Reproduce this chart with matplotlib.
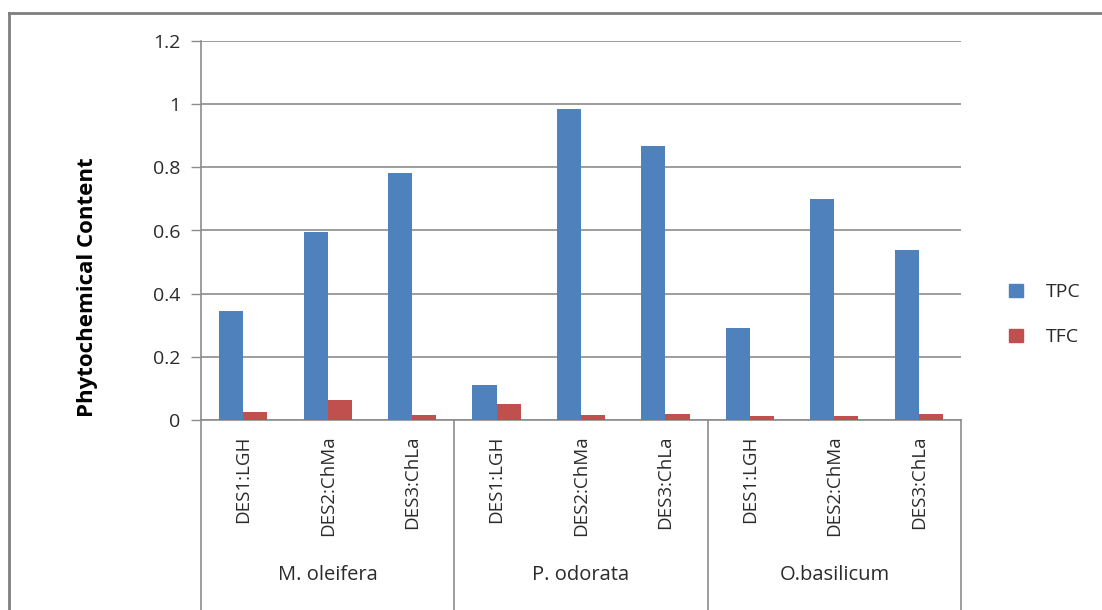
import numpy as np
import matplotlib.pyplot as plt
from matplotlib.patches import Patch
from matplotlib.lines import Line2D

plt.rcParams['font.family'] = ['Open Sans', 'DejaVu Sans']

# solvent systems inside each plant group
solvents = ['DES1:LGH', 'DES2:ChMa', 'DES3:ChLa']
plants = ['M. oleifera', 'P. odorata', 'O.basilicum']

# phenolic and flavonoid content, three solvents per plant
tpc = [0.344, 0.594, 0.783, 0.110, 0.985, 0.868, 0.290, 0.700, 0.537]
tfc = [0.025, 0.063, 0.015, 0.050, 0.015, 0.020, 0.012, 0.012, 0.020]

yticks = [0, 0.2, 0.4, 0.6, 0.8, 1, 1.2]
ytick_labels = ['0', '0.2', '0.4', '0.6', '0.8', '1', '1.2']

blue = '#4F81BD'
red = '#C0504D'
grid_c = '#8C8C8C'
text_c = '#2b2b2b'

fig = plt.figure(figsize=(11.02, 6.10), dpi=100)
ax = fig.add_axes([201 / 1102, 1 - 420 / 610, 760 / 1102, 379 / 610])

n = len(tpc)
x = np.arange(n)
w = 0.285
ax.bar(x - w / 2, tpc, w, color=blue, zorder=3)
ax.bar(x + w / 2, tfc, w, color=red, zorder=3)

ax.set_xlim(-0.5, n - 0.5)
ax.set_ylim(0, 1.2)
ax.set_yticks(yticks)
ax.set_yticklabels(ytick_labels, fontsize=14, color=text_c)
ax.yaxis.grid(True, color=grid_c, linewidth=1.2, zorder=0)
ax.tick_params(axis='y', length=7, width=1, color=grid_c, pad=8)

ax.set_xticks(x)
ax.set_xticklabels(solvents * len(plants), rotation=90, fontsize=13.5, color=text_c)
ax.tick_params(axis='x', length=0, pad=11)

for side in ['top', 'right']:
    ax.spines[side].set_visible(False)
for side in ['left', 'bottom']:
    ax.spines[side].set_color(grid_c)
    ax.spines[side].set_linewidth(1.2)

# group separators running down through the label area
for b in [-0.5, 2.5, 5.5, 8.5]:
    ax.axvline(b, ymin=-0.52, ymax=0, color=grid_c, linewidth=1.2, clip_on=False)

for i, p in enumerate(plants):
    ax.text(3 * i + 1, -0.41, p, transform=ax.get_xaxis_transform(),
            ha='center', va='center', fontsize=14.5, color=text_c)

ax.set_ylabel('Phytochemical Content', fontsize=16, fontweight='bold',
              color='black')
ax.yaxis.set_label_coords(-0.136, 0.351)

handles = [Patch(color=blue, label='TPC'), Patch(color=red, label='TFC')]
fig.legend(handles=handles, loc='center left', bbox_to_anchor=(0.9, 0.484),
           frameon=False, fontsize=14, handlelength=0.7, handleheight=0.7,
           labelspacing=1.4, handletextpad=1.2, labelcolor=text_c)

# outer chart frame (left and top edges)
fig.add_artist(Line2D([9 / 1102, 9 / 1102], [0, 1 - 13 / 610],
                      transform=fig.transFigure, color='#7f7f7f', linewidth=2))
fig.add_artist(Line2D([9 / 1102, 1], [1 - 13 / 610, 1 - 13 / 610],
                      transform=fig.transFigure, color='#7f7f7f', linewidth=2))

fig.savefig('out.png', dpi=100, facecolor='white')
